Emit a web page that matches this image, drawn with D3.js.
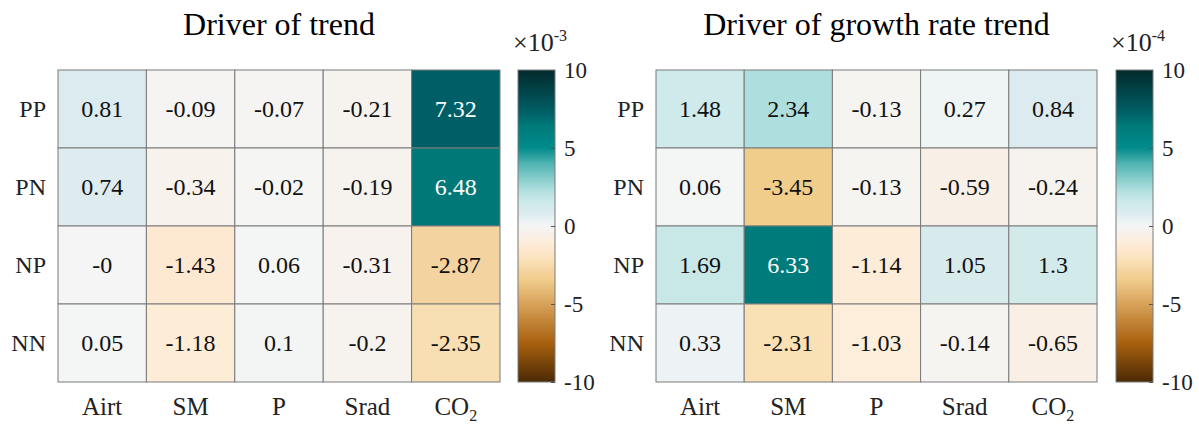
<!DOCTYPE html>
<html><head><meta charset="utf-8">
<script src="https://cdn.jsdelivr.net/npm/d3@7"></script>
<style>body{margin:0;background:#fff}svg text{font-family:"Liberation Serif",serif !important}</style>
</head><body>
<svg id="c" width="1199" height="425"></svg>
<script>
const rows = ["PP","PN","NP","NN"];
const cols = ["Airt","SM","P","Srad","CO2"];
const trendValues = [
  [0.81,-0.09,-0.07,-0.21,7.32],
  [0.74,-0.34,-0.02,-0.19,6.48],
  [-0,-1.43,0.06,-0.31,-2.87],
  [0.05,-1.18,0.1,-0.2,-2.35]
];
const growthValues = [
  [1.48,2.34,-0.13,0.27,0.84],
  [0.06,-3.45,-0.13,-0.59,-0.24],
  [1.69,6.33,-1.14,1.05,1.3],
  [0.33,-2.31,-1.03,-0.14,-0.65]
];
const cbTicks = [-10,-5,0,5,10];
const titles = ["Driver of trend","Driver of growth rate trend"];
const exponents = ["-3","-4"];

const stopVals = [-10,-7.5,-5,-3.45,-2.87,-2.3,-1.4,-1.1,-0.6,-0.2,0,0.3,0.8,1.5,2.3,4,5,6.4,7.3,10];
const stopCols = ["#4b2a06","#a8600d","#d8a25a","#f1cd8c","#f3d39f","#f9e0b5","#fde9d3","#fdeed9","#f8efe6","#f6f3ef","#f5f5f5","#eef4f4","#dcebef","#cfeaea","#b1dfdf","#4fb3b0","#018b8b","#007a7a","#005f66","#032a2c"];
const color = d3.scaleLinear().domain(stopVals).range(stopCols).interpolate(d3.interpolateRgb).clamp(true);

const FF = "'Liberation Serif',serif";
const svg = d3.select("#c");
const defs = svg.append("defs");
const grad = defs.append("linearGradient").attr("id","cbg").attr("x1",0).attr("x2",0).attr("y1",1).attr("y2",0);
d3.range(0,101).forEach(i=>{
  const v = -10 + i*0.2;
  grad.append("stop").attr("offset",(i)+"%").attr("stop-color",color(v));
});

const panels = [
  {x0:58,x1:500,cb:518,data:trendValues,title:titles[0],exp:exponents[0]},
  {x0:656,x1:1097,cb:1116,data:growthValues,title:titles[1],exp:exponents[1]}
];
const y0 = 70, y1 = 382;
const fmt = v => (Object.is(v,-0) ? "-0" : String(v));

panels.forEach(p=>{
  const g = svg.append("g").attr("font-family",FF);
  const x = d3.scaleBand().domain(cols).range([p.x0,p.x1]);
  const y = d3.scaleBand().domain(rows).range([y0,y1]);
  const cells = [];
  rows.forEach((r,i)=>cols.forEach((c,j)=>cells.push({r,c,v:p.data[i][j]})));
  g.selectAll("rect.cell").data(cells).join("rect")
    .attr("x",d=>x(d.c)).attr("y",d=>y(d.r))
    .attr("width",x.bandwidth()).attr("height",y.bandwidth())
    .attr("fill",d=>color(d.v)).attr("stroke","#7a7a7a").attr("stroke-width",1);
  g.selectAll("text.val").data(cells).join("text")
    .attr("x",d=>x(d.c)+x.bandwidth()/2).attr("y",d=>y(d.r)+y.bandwidth()/2+8)
    .attr("text-anchor","middle")
    .attr("font-size",24).attr("fill",d=>Math.abs(d.v)>5?"#fff":"#111")
    .text(d=>fmt(d.v));
  g.selectAll("text.row").data(rows).join("text")
    .attr("x",p.x0-12).attr("y",d=>y(d)+y.bandwidth()/2+8)
    .attr("text-anchor","end")
    .attr("font-size",24).attr("fill","#222").text(d=>d);
  const cl = g.selectAll("text.col").data(cols).join("text")
    .attr("x",d=>x(d)+x.bandwidth()/2).attr("y",415)
    .attr("text-anchor","middle").attr("font-size",25).attr("fill","#222");
  cl.each(function(d){
    const t = d3.select(this);
    if(d==="CO2"){ t.append("tspan").text("CO"); t.append("tspan").attr("font-size",16).attr("dy",6).text("2"); }
    else t.text(d);
  });
  g.append("text").attr("x",(p.x0+p.x1)/2).attr("y",35).attr("text-anchor","middle")
    .attr("font-size",32).attr("fill","#000").text(p.title);
  const cbW = 37;
  const cy = d3.scaleLinear().domain([-10,10]).range([y1,y0]);
  g.append("rect").attr("x",p.cb).attr("y",y0).attr("width",cbW).attr("height",y1-y0)
    .attr("fill","url(#cbg)").attr("stroke","#7a7a7a").attr("stroke-width",1);
  const ax = d3.axisRight(cy).tickValues(cbTicks).tickSize(0).tickPadding(0).tickFormat(d=>String(d));
  const ag = g.append("g").attr("transform",`translate(${p.cb+cbW},0)`).call(ax)
    .attr("font-family",FF);
  ag.select(".domain").remove();
  ag.selectAll(".tick line").attr("x1",-4).attr("x2",0).attr("stroke","#555").attr("stroke-width",1);
  ag.selectAll(".tick text").attr("x",9).attr("font-size",23).attr("fill","#222");
  const et = g.append("text").attr("x",p.cb-5).attr("y",51).attr("font-size",26).attr("fill","#222");
  et.append("tspan").text("×10");
  et.append("tspan").attr("font-size",16).attr("dy",-10).text(p.exp);
});
</script>
</body></html>
